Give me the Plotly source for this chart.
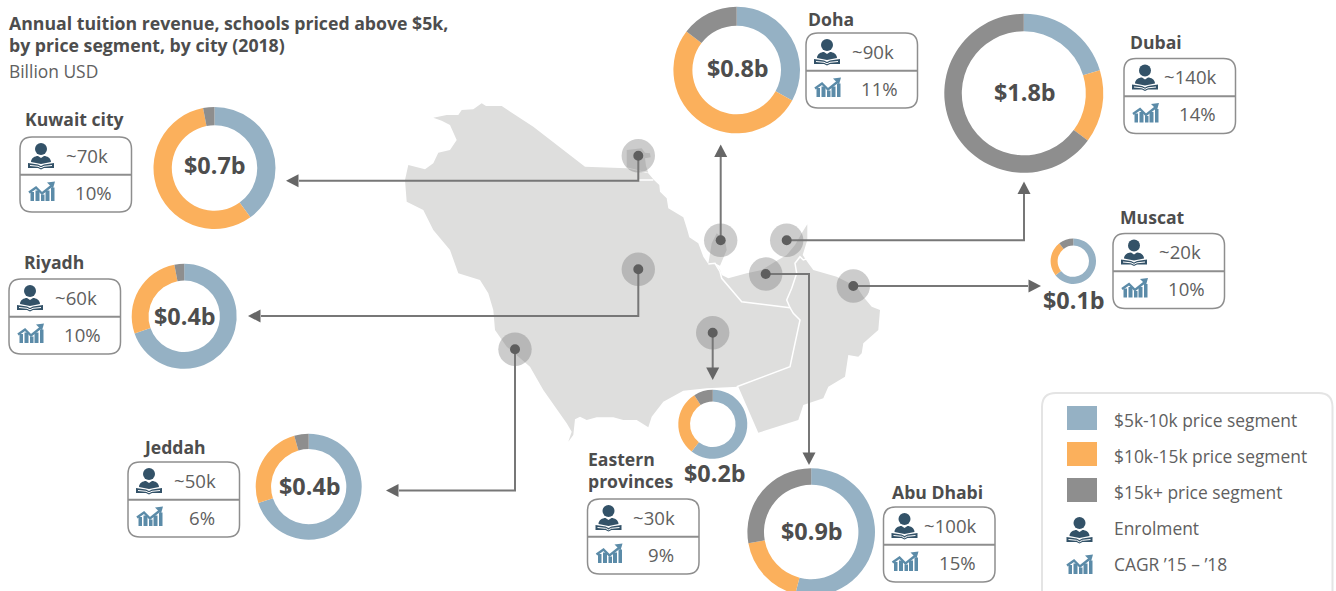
import plotly.graph_objects as go

W, H = 1336, 600
FONT = "Open Sans"
TXT = "#4d4d4d"
TXT2 = "#606060"
BLUE, ORANGE, GRAY = "#95b1c4", "#fbb05c", "#8e8e8e"

segments = ["$5k-10k price segment", "$10k-15k price segment", "$15k+ price segment"]
cities = ["Kuwait city", "Riyadh", "Jeddah", "Eastern provinces", "Doha", "Dubai", "Muscat", "Abu Dhabi"]
share_5_10 = [40, 69.7, 70, 60.5, 33, 20.3, 64.4, 54]
share_10_15 = [57, 27.3, 25.6, 30.5, 52.4, 14.8, 25, 18.2]
share_15_up = [3, 3, 4.4, 9, 14.6, 64.9, 10.6, 27.8]
revenue = ["$0.7b", "$0.4b", "$0.4b", "$0.2b", "$0.8b", "$1.8b", "$0.1b", "$0.9b"]
enrolment = ["~70k", "~60k", "~50k", "~30k", "~90k", "~140k", "~20k", "~100k"]
cagr = ["10%", "10%", "6%", "9%", "11%", "14%", "10%", "15%"]
legend_extra = ["Enrolment", "CAGR ’15 – ’18"]

# layout of each city: donut centre, radius, hole; card left/top; name position; revenue label position
donut_pos = [(214.5, 168, 61, .70), (184.2, 316.3, 52.5, .68), (308.7, 486.7, 53, .71), (712.8, 424.3, 34.5, .66),
             (736.7, 70, 63.3, .70), (1023.8, 93.3, 79.5, .78), (1073.3, 261.2, 22.7, .69), (811.2, 532, 63.8, .74)]
card_pos = [(20, 137), (9, 279), (128, 462), (587.5, 499), (806, 33), (1124, 58.5), (1113, 233.5), (883.5, 507)]
name_pos = [(25, 119), (24, 262), (143, 446.5), (588, 459), (808, 19), (1130, 42), (1120, 217), (892, 491.5)]
label_pos = [(215, 165), (185, 316), (309.5, 486), (714.5, 473), (738, 68), (1024.5, 92), (1073.5, 300), (812, 531)]

# map outline, in a 3x local grid anchored at page position (400, 130)
outline = [(100, -37), (140, -45), (175, -45), (185, -60), (220, -62), (245, -80), (258, -72), (305, -72), (400, -10),
           (555, 110), (680, 115), (745, 130), (762, 150), (778, 165), (780, 185), (800, 205), (805, 235), (850, 262),
           (862, 300), (868, 322), (895, 340), (910, 380), (925, 402), (945, 400), (960, 420), (965, 435), (985, 445),
           (1040, 430), (1085, 420), (1125, 395), (1160, 375), (1185, 345), (1205, 310), (1222, 283), (1222, 330),
           (1208, 375), (1225, 400), (1240, 420), (1310, 440), (1370, 470), (1390, 500), (1415, 530), (1440, 540),
           (1435, 600), (1390, 640), (1385, 670), (1375, 680), (1345, 675), (1335, 740), (1285, 770), (1270, 805),
           (1210, 825), (1195, 870), (1075, 908), (1015, 770), (920, 775), (850, 782), (790, 815), (755, 860),
           (745, 892), (710, 870), (670, 870), (640, 862), (590, 862), (560, 870), (540, 860), (525, 868), (520, 915),
           (505, 935), (515, 905), (500, 880), (430, 780), (390, 710), (320, 650), (285, 600), (280, 540), (265, 490),
           (240, 450), (175, 430), (150, 360), (100, 300), (70, 240), (20, 215), (15, 150), (25, 105), (75, 118),
           (100, 100), (115, 68), (150, 60), (170, 30), (150, -15), (125, -28)]
qatar = [(925, 402), (935, 340), (950, 310), (975, 330), (980, 360), (960, 407), (945, 400)]
kuwait = [(680, 60), (725, 55), (735, 68), (750, 70), (752, 82), (735, 85), (738, 108), (745, 128), (680, 112)]
borders = [[(715, 150), (760, 150)],
           [(925, 402), (945, 400), (960, 425), (965, 445), (1025, 515), (1170, 533), (1180, 550), (1200, 570),
            (1170, 710), (1010, 770)],
           [(1170, 533), (1160, 510), (1175, 475), (1190, 430), (1185, 400), (1200, 380), (1210, 390), (1225, 385)]]
nodes = [(638.3, 155.7), (638.3, 269.3), (515, 349.3), (712.7, 332.7), (720.7, 240.3), (786.7, 240.3), (853.3, 286),
         (765.7, 274)]
# leader routes from node to arrow tip, plus arrow direction
leaders = [([(638.3, 180.7), (299, 180.7)], "left", (286, 180.7)),
           ([(638.3, 316), (261, 316)], "left", (248, 316)),
           ([(515, 490.5), (399, 490.5)], "left", (386, 490.5)),
           ([(712.7, 369)], "down", (712.7, 380)),
           ([(720.7, 156)], "up", (720.7, 144.5)),
           ([(1024, 240.3), (1024, 193)], "up", (1024, 181.5)),
           ([(1028, 286)], "right", (1041, 286)),
           ([(809, 274), (809, 454)], "down", (809, 465))]


def poly(pts, close=True):
    return "M " + " L ".join(f"{x:.1f},{y:.1f}" for x, y in pts) + (" Z" if close else "")


def local(pts):
    return [(400 + x / 3, 130 + y / 3) for x, y in pts]


def rrect(x0, y0, x1, y1, r):
    return (f"M {x0+r},{y0} L {x1-r},{y0} Q {x1},{y0} {x1},{y0+r} L {x1},{y1-r} Q {x1},{y1} {x1-r},{y1} "
            f"L {x0+r},{y1} Q {x0},{y1} {x0},{y1-r} L {x0},{y0+r} Q {x0},{y0} {x0+r},{y0} Z")


shapes = []
ann = []


def add_shape(**k):
    k.setdefault("xref", "x")
    k.setdefault("yref", "y")
    shapes.append(k)


def text(x, y, s, size=18.6, color=TXT2, bold=False, anchor="left"):
    ann.append(dict(x=x, y=y, xref="x", yref="y", text=f"<b>{s}</b>" if bold else s, showarrow=False, xanchor=anchor,
                    yanchor="middle", align=anchor, font=dict(family=FONT, size=size, color=color),
                    borderpad=0, borderwidth=0))


def person_icon(cx, cy):
    c = "#335268"
    add_shape(type="circle", x0=cx - 6, x1=cx + 6, y0=cy - 13, y1=cy - 1, fillcolor=c, line_width=0)
    add_shape(type="path", fillcolor=c, line_width=0,
              path=f"M {cx-10},{cy+6} C {cx-10},{cy+2} {cx-6},{cy} {cx-3},{cy} L {cx},{cy+2} L {cx+3},{cy} "
                   f"C {cx+6},{cy} {cx+10},{cy+2} {cx+10},{cy+6} L {cx},{cy+8} Z")
    add_shape(type="path", fillcolor=c, line_width=0,
              path=poly([(cx - 13, cy + 7), (cx - 3, cy + 8.5), (cx, cy + 10), (cx + 3, cy + 8.5), (cx + 13, cy + 7),
                         (cx + 13, cy + 12), (cx + 3, cy + 12), (cx, cy + 13.5), (cx - 3, cy + 12), (cx - 13, cy + 12)]))
    add_shape(type="path", line=dict(color="white", width=1),
              path=poly([(cx - 11, cy + 9.5), (cx - 3, cy + 10.3), (cx, cy + 11.8), (cx + 3, cy + 10.3),
                         (cx + 11, cy + 9.5)], close=False))


def chart_icon(cx, cy):
    c = "#5b8ba8"
    for a, t, b in [(-11.5, 0.5, -8), (-6.5, -1, -2.5), (-1, 3, 2.5), (3.5, -1, 7.5), (9, -4, 12.5)]:
        add_shape(type="rect", x0=cx + a, x1=cx + b, y0=cy + t, y1=cy + 9.5, fillcolor=c, line_width=0)
    add_shape(type="path", line=dict(color=c, width=2.4),
              path=poly([(cx - 13, cy + 1), (cx - 6, cy - 4), (cx, cy + 2), (cx + 10, cy - 6)], close=False))
    add_shape(type="path", fillcolor=c, line_width=0,
              path=poly([(cx + 13, cy - 10), (cx + 5, cy - 9), (cx + 11, cy - 3)]))


# map
add_shape(type="path", path=poly(local(outline)), fillcolor="#dededd", line_width=0, layer="below")
add_shape(type="path", path=poly(local(qatar)), fillcolor="#dededd", line_width=0, layer="below")
add_shape(type="path", path=poly(local(kuwait)), fillcolor="#dededd", line_width=0, layer="below")
for b in borders:
    add_shape(type="path", path=poly(local(b), close=False), line=dict(color="white", width=1.5), layer="below")
for x, y in nodes:
    add_shape(type="circle", x0=x - 16.7, x1=x + 16.7, y0=y - 16.7, y1=y + 16.7, fillcolor="rgba(120,120,120,0.38)",
              line_width=0)

# leaders
for (x, y), (route, direction, tip) in zip(nodes, leaders):
    add_shape(type="path", path=poly([(x, y)] + route, close=False), line=dict(color="#777777", width=2))
    tx, ty = tip
    hw, ln = 6.5, 12.5
    tri = {"left": [(tx, ty), (tx + ln, ty - hw), (tx + ln, ty + hw)],
           "right": [(tx, ty), (tx - ln, ty - hw), (tx - ln, ty + hw)],
           "up": [(tx, ty), (tx - hw, ty + ln), (tx + hw, ty + ln)],
           "down": [(tx, ty), (tx - hw, ty - ln), (tx + hw, ty - ln)]}[direction]
    add_shape(type="path", path=poly(tri), fillcolor="#666666", line_width=0)
    add_shape(type="circle", x0=x - 5, x1=x + 5, y0=y - 5, y1=y + 5, fillcolor="#5e5e5e", line_width=0)

# pies and cards
traces = []
for i, city in enumerate(cities):
    cx, cy, r, hole = donut_pos[i]
    traces.append(go.Pie(labels=segments, values=[share_5_10[i], share_10_15[i], share_15_up[i]], name=city,
                         sort=False, direction="clockwise", rotation=0, hole=hole, textinfo="none",
                         marker=dict(colors=[BLUE, ORANGE, GRAY], line=dict(width=0)), showlegend=False,
                         domain=dict(x=[(cx - r) / W, (cx + r) / W], y=[1 - (cy + r) / H, 1 - (cy - r) / H])))
    lx, ly = label_pos[i]
    text(lx, ly, revenue[i], size=23.4, color=TXT, bold=True, anchor="center")
    x0, y0 = card_pos[i]
    add_shape(type="path", path=rrect(x0, y0, x0 + 111.5, y0 + 75, 12), fillcolor="white",
              line=dict(color="#8e8e8e", width=1.5))
    add_shape(type="line", x0=x0, x1=x0 + 111.5, y0=y0 + 37.7, y1=y0 + 37.7, line=dict(color="#8e8e8e", width=2))
    person_icon(x0 + 21, y0 + 19)
    chart_icon(x0 + 22, y0 + 54.5)
    text(x0 + 66.5, y0 + 18, enrolment[i], anchor="center")
    text(x0 + 73.5, y0 + 55, cagr[i], anchor="center")
    nx, ny = name_pos[i]
    if city == "Eastern provinces":
        text(nx, ny, "Eastern", size=17.6, color=TXT, bold=True)
        text(nx, ny + 22, "provinces", size=17.6, color=TXT, bold=True)
    else:
        text(nx, ny, city, size=17.6, color=TXT, bold=True)

# title
text(9, 23, "Annual tuition revenue, schools priced above $5k,", size=17.7, color=TXT, bold=True)
text(9, 45, "by price segment, by city (2018)", size=17.7, color=TXT, bold=True)
text(9, 71, "Billion USD", size=17.4)

# legend
add_shape(type="path", path=rrect(1042, 393, 1332.5, 640, 14), fillcolor="white", line=dict(color="#e4e4e4", width=2),
          layer="below")
for lab, col, y in zip(segments, [BLUE, ORANGE, GRAY], [421, 457, 493]):
    add_shape(type="rect", x0=1067, x1=1097, y0=y - 15, y1=y + 9, fillcolor=col, line_width=0)
    text(1114, y - 1, lab, size=17.4)
person_icon(1079.5, 530)
chart_icon(1080, 564.5)
text(1114, 528, legend_extra[0], size=17.4)
text(1114, 564, legend_extra[1], size=17.4)

fig = go.Figure(traces)
fig.update_layout(width=W, height=H, margin=dict(l=0, r=0, t=0, b=0), paper_bgcolor="white", plot_bgcolor="white",
                  xaxis=dict(range=[0, W], visible=False, fixedrange=True),
                  yaxis=dict(range=[H, 0], visible=False, fixedrange=True),
                  shapes=shapes, annotations=ann, hovermode=False)
fig.write_html("out.html", config={"displayModeBar": False},
               post_script="document.body.style.margin='0';document.body.style.overflow='hidden';"
                           "document.documentElement.style.overflow='hidden';")
